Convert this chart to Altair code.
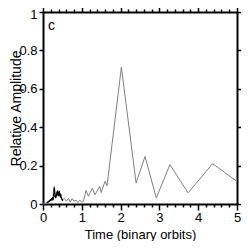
import altair as alt
import pandas as pd

# grey (coarse) series
grey_t = [0.0, 0.1, 0.2, 0.25, 0.29, 0.33, 0.38, 0.45, 0.5, 0.55, 0.6, 0.66, 0.7, 0.75, 0.8,
          0.85, 0.9, 0.95, 1.0, 1.04, 1.11, 1.17, 1.27, 1.34, 1.46, 1.50, 1.60, 1.65,
          2.02, 2.40, 2.63, 2.92, 3.27, 3.74, 4.37, 5.0]
grey_v = [0.0, 0.005, 0.02, 0.03, 0.092, 0.04, 0.05, 0.045, 0.02, 0.03, 0.015, 0.03, 0.01, 0.028,
          0.015, 0.02, 0.008, 0.02, 0.01, 0.014, 0.071, 0.04, 0.083, 0.048, 0.092, 0.06,
          0.118, 0.095, 0.713, 0.109, 0.248, 0.031, 0.205, 0.058, 0.21, 0.118]

# black (fine) series
black_t = [0.10, 0.11, 0.12, 0.13, 0.14, 0.15, 0.16, 0.17, 0.18, 0.19, 0.20, 0.21, 0.22,
           0.23, 0.24, 0.25, 0.26, 0.27, 0.28, 0.29, 0.30, 0.31, 0.32, 0.33, 0.34, 0.35,
           0.36, 0.37, 0.38, 0.39, 0.40, 0.41, 0.42, 0.43, 0.44, 0.45, 0.46, 0.47, 0.48,
           0.49, 0.50, 0.51]
black_v = [0.01, 0.005, 0.012, 0.008, 0.015, 0.01, 0.018, 0.012, 0.022, 0.015, 0.025, 0.02,
           0.03, 0.018, 0.028, 0.035, 0.02, 0.04, 0.06, 0.085, 0.05, 0.035, 0.045, 0.03,
           0.055, 0.04, 0.065, 0.045, 0.07, 0.05, 0.06, 0.04, 0.068, 0.045, 0.055, 0.035,
           0.05, 0.03, 0.035, 0.02, 0.025, 0.015]

x_ticks = [0, 0.2, 0.4, 0.6, 0.8, 1, 1.2, 1.4, 1.6, 1.8, 2, 2.2, 2.4, 2.6, 2.8, 3,
           3.2, 3.4, 3.6, 3.8, 4, 4.2, 4.4, 4.6, 4.8, 5]
y_ticks = [0, 0.2, 0.4, 0.6, 0.8, 1]

grey = pd.DataFrame({"t": grey_t, "v": grey_v})
black = pd.DataFrame({"t": black_t, "v": black_v})

W, H = 194, 192

is_major = "abs(datum.value - round(datum.value)) < 0.001"
xtick_size = {"condition": {"test": is_major, "value": 6}, "value": 3}

xscale = alt.Scale(domain=[0, 5], nice=False, zero=False)
yscale = alt.Scale(domain=[0, 1], nice=False, zero=False)

common = dict(domainColor="black", domainWidth=2, tickColor="black", tickWidth=1.5,
              grid=False, labelFont="Liberation Sans", titleFont="Liberation Sans",
              labelColor="black", titleColor="black", titleFontWeight="normal")

ax_bottom = alt.Axis(orient="bottom", values=x_ticks, tickSize=xtick_size,
                     labelExpr=f"{is_major} ? format(datum.value, 'd') : ''",
                     labelFlush=False, labelOverlap=False, labelFontSize=13,
                     labelPadding=1, title="Time (binary orbits)", titleFontSize=13,
                     titleBaseline="alphabetic", titleY=34, titleX=W / 2, **common)
ax_top = alt.Axis(orient="top", values=x_ticks, tickSize=xtick_size, labels=False,
                  title=None, **common)
ax_left = alt.Axis(orient="left", values=y_ticks, tickSize=4, format="~g",
                   labelFontSize=13, labelPadding=2,
                   labelOffset={"condition": {"test": "datum.value == 1", "value": 2}, "value": 0},
                   title="Relative Amplitude", titleFontSize=14,
                   titleBaseline="alphabetic", titleX=-23, titleY=H / 2,
                   **common)
ax_right = alt.Axis(orient="right", values=y_ticks, tickSize=4, labels=False,
                    title=None, **common)

grey_line = alt.Chart(grey).mark_line(color="#808080", strokeWidth=1).encode(
    x=alt.X("t:Q", scale=xscale, axis=ax_bottom),
    y=alt.Y("v:Q", scale=yscale, axis=ax_left),
)
black_line = alt.Chart(black).mark_line(color="black", strokeWidth=1).encode(
    x=alt.X("t:Q", scale=xscale, axis=ax_top),
    y=alt.Y("v:Q", scale=yscale, axis=ax_right),
)
label = alt.Chart(pd.DataFrame({"s": ["c"]})).mark_text(
    align="left", baseline="alphabetic", fontSize=14, font="Liberation Sans", color="black"
).encode(text="s:N", x=alt.value(5), y=alt.value(18))

chart = alt.layer(grey_line, black_line, label).resolve_axis(
    x="independent", y="independent"
).properties(
    width=W, height=H,
    autosize=alt.AutoSizeParams(type="none"),
    padding={"left": 35, "top": 4, "right": 4, "bottom": 37},
).configure_view(stroke=None)

chart.save("out.html", embed_options={"renderer": "svg", "actions": False})
